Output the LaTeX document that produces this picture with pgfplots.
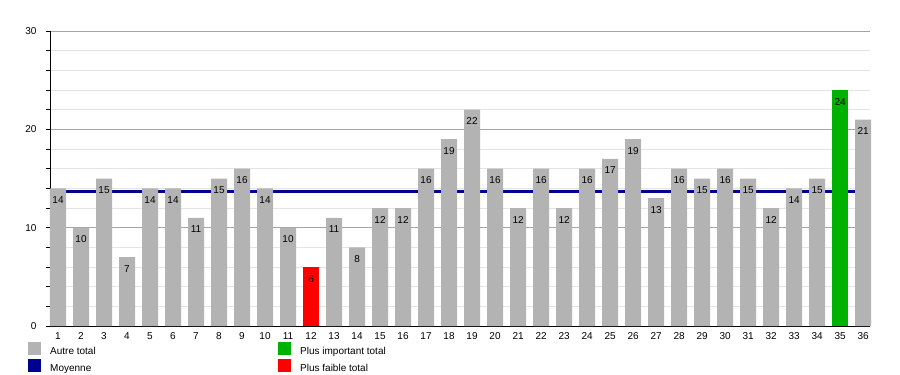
\documentclass[border=0pt]{standalone}
\usepackage{pgfplots}
\pgfplotsset{compat=1.18}
\usepackage{fontspec}
\setmainfont{Liberation Sans}
\definecolor{bargray}{RGB}{179,179,179}
\definecolor{bargreen}{RGB}{0,178,0}
\definecolor{barred}{RGB}{255,0,0}
\definecolor{meanblue}{RGB}{0,0,145}
\definecolor{majgrid}{RGB}{165,165,165}
\definecolor{mingrid}{RGB}{228,228,228}
\begin{document}
\begin{tikzpicture}[font=\fontsize{10}{12}\selectfont]
\path[use as bounding box] (-50pt,-49pt) rectangle (850pt,326pt);
\begin{axis}[
  at={(0,0)}, anchor=south west,
  scale only axis, width=820pt, height=295pt,
  xmin=0.652, xmax=36.3, ymin=0, ymax=30,
  axis x line*=bottom, axis y line*=left,
  axis line style={black, line width=0.8pt},
  xtick={1,...,36}, xtick style={draw=none},
  ytick={0,10,20,30}, minor tick num=4,
  tick align=outside, major tick length=4pt, minor tick length=4pt,
  ytick style={black, line width=0.6pt},
  ymajorgrids, yminorgrids,
  major grid style={majgrid, line width=0.8pt},
  minor grid style={mingrid, line width=0.7pt},
  /pgf/number format/assume math mode=true,
  ticklabel style={font=\fontsize{10}{12}\selectfont},
  xticklabel style={yshift=1pt},
  yticklabel style={xshift=-6pt},
  clip=false,
]
\addplot[meanblue, line width=3pt] coordinates {(0.652,13.7) (35.7,13.7)};
\addplot[ybar, bar width=0.696, bar shift=0pt, fill=bargray, draw=none] coordinates {
(1,14) (2,10) (3,15) (4,7) (5,14) (6,14) (7,11) (8,15) (9,16) (10,14)
(11,10) (13,11) (14,8) (15,12) (16,12) (17,16) (18,19) (19,22) (20,16)
(21,12) (22,16) (23,12) (24,16) (25,17) (26,19) (27,13) (28,16) (29,15) (30,16)
(31,15) (32,12) (33,14) (34,15) (36,21)};
\addplot[ybar, bar width=0.696, bar shift=0pt, fill=barred, draw=none] coordinates {(12,6)};
\addplot[ybar, bar width=0.696, bar shift=0pt, fill=bargreen, draw=none] coordinates {(35,24)};
\addplot[draw=none, mark=none, nodes near coords,
  every node near coord/.append style={anchor=north, yshift=-6.5pt, inner sep=1.5pt,
    text=black, font=\fontsize{10}{12}\selectfont}] coordinates {
(1,14) (2,10) (3,15) (4,7) (5,14) (6,14) (7,11) (8,15) (9,16) (10,14)
(11,10) (12,6) (13,11) (14,8) (15,12) (16,12) (17,16) (18,19) (19,22) (20,16)
(21,12) (22,16) (23,12) (24,16) (25,17) (26,19) (27,13) (28,16) (29,15) (30,16)
(31,15) (32,12) (33,14) (34,15) (35,24) (36,21)};
\end{axis}
% legend
\fill[bargray] (-22pt,-29pt) rectangle (-9pt,-16pt);
\node[anchor=base west, inner sep=0pt] at (0pt,-28.3pt) {Autre total};
\fill[meanblue] (-22pt,-46pt) rectangle (-9pt,-33pt);
\node[anchor=base west, inner sep=0pt] at (0pt,-45.3pt) {Moyenne};
\fill[bargreen] (228pt,-29pt) rectangle (241pt,-16pt);
\node[anchor=base west, inner sep=0pt] at (250pt,-28.3pt) {Plus important total};
\fill[barred] (228pt,-46pt) rectangle (241pt,-33pt);
\node[anchor=base west, inner sep=0pt] at (250pt,-45.3pt) {Plus faible total};
\end{tikzpicture}
\end{document}
